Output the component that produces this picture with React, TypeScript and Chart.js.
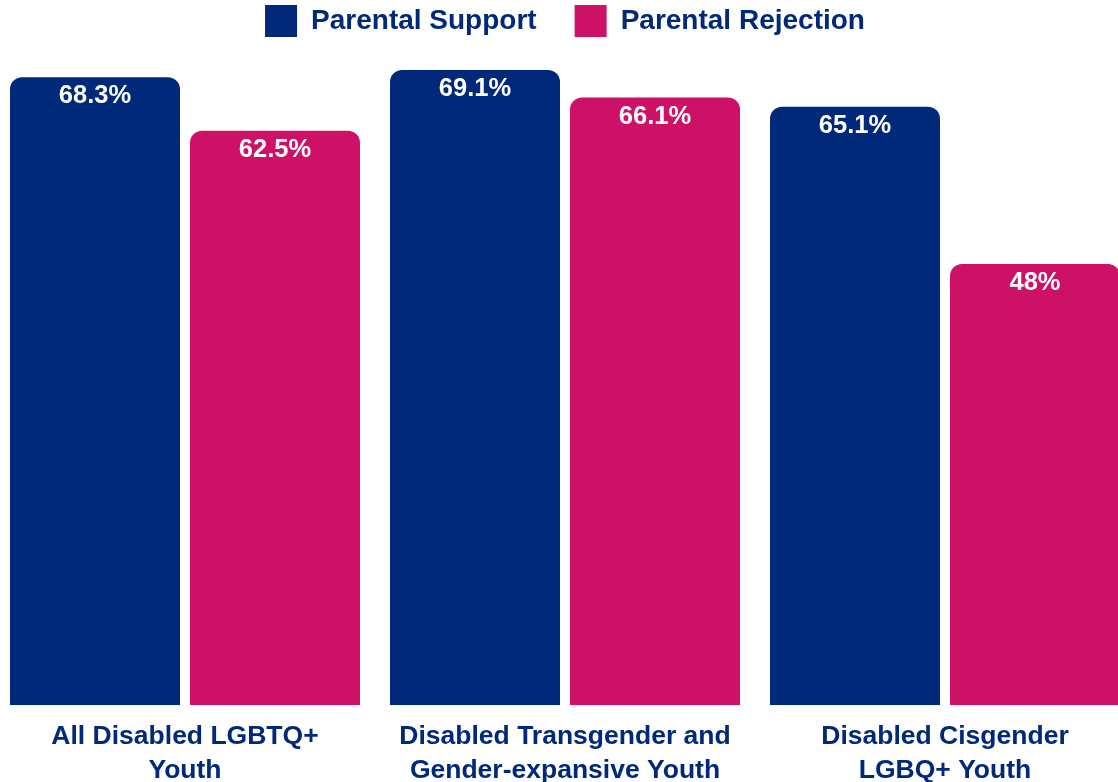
import React, { useEffect, useRef } from "react";
import { Chart, registerables } from "chart.js";

Chart.register(...registerables);

const categories: string[][] = [
  ["All Disabled LGBTQ+", "Youth"],
  ["Disabled Transgender and", "Gender-expansive Youth"],
  ["Disabled Cisgender", "LGBQ+ Youth"],
];
const supportValues: number[] = [68.3, 69.1, 65.1];
const rejectionValues: number[] = [62.5, 66.1, 48];
const seriesNames: string[] = ["Parental Support", "Parental Rejection"];

const NAVY = "#00297A";
const MAGENTA = "#CD1166";
const FONT = "'Liberation Sans', Arial, Helvetica, sans-serif";

const valueLabels = {
  id: "valueLabels",
  afterDatasetsDraw(chart: any) {
    const ctx = chart.ctx;
    ctx.save();
    ctx.fillStyle = "#ffffff";
    ctx.font = `bold 25.5px ${FONT}`;
    ctx.textAlign = "center";
    ctx.textBaseline = "middle";
    chart.data.datasets.forEach((ds: any, di: number) => {
      const meta = chart.getDatasetMeta(di);
      meta.data.forEach((bar: any, i: number) => {
        ctx.fillText(`${ds.data[i]}%`, bar.x, bar.y + 19);
      });
    });
    ctx.restore();
  },
};

export default function App() {
  const ref = useRef<HTMLCanvasElement | null>(null);

  useEffect(() => {
    document.body.style.margin = "0";
    document.body.style.overflow = "hidden";
    if (!ref.current) return;
    const chart = new Chart(ref.current, {
      type: "bar",
      data: {
        labels: categories,
        datasets: [
          {
            label: seriesNames[0],
            data: supportValues,
            backgroundColor: NAVY,
            borderWidth: 0,
            borderRadius: { topLeft: 12, topRight: 12, bottomLeft: 0, bottomRight: 0 },
            borderSkipped: false,
          },
          {
            label: seriesNames[1],
            data: rejectionValues,
            backgroundColor: MAGENTA,
            borderWidth: 0,
            borderRadius: { topLeft: 12, topRight: 12, bottomLeft: 0, bottomRight: 0 },
            borderSkipped: false,
          },
        ],
      },
      options: {
        responsive: false,
        animation: false,
        layout: { padding: 0 },
        datasets: {
          bar: {
            categoryPercentage: 360 / 380,
            barPercentage: 170 / 180,
          },
        },
        scales: {
          x: {
            grid: { display: false, drawTicks: false },
            border: { display: false },
            ticks: {
              color: NAVY,
              padding: 15,
              maxRotation: 0,
              autoSkip: false,
              font: { family: FONT, size: 26.5, weight: "bold", lineHeight: 1.28 },
            },
          },
          y: {
            display: false,
            min: 0,
            max: 71.6,
          },
        },
        plugins: {
          legend: {
            position: "top",
            align: "center",
            labels: {
              boxWidth: 32,
              boxHeight: 32,
              padding: 38,
              color: NAVY,
              font: { family: FONT, size: 28, weight: "bold" },
            },
          },
          tooltip: { enabled: false },
        },
      },
      plugins: [valueLabels],
    });
    return () => chart.destroy();
  }, []);

  return (
    <div style={{ position: "relative", width: 1118, height: 782, overflow: "hidden" }}>
      <canvas
        ref={ref}
        width={1140}
        height={836}
        style={{ position: "absolute", left: -5, top: -33, width: 1140, height: 836 }}
      />
    </div>
  );
}
